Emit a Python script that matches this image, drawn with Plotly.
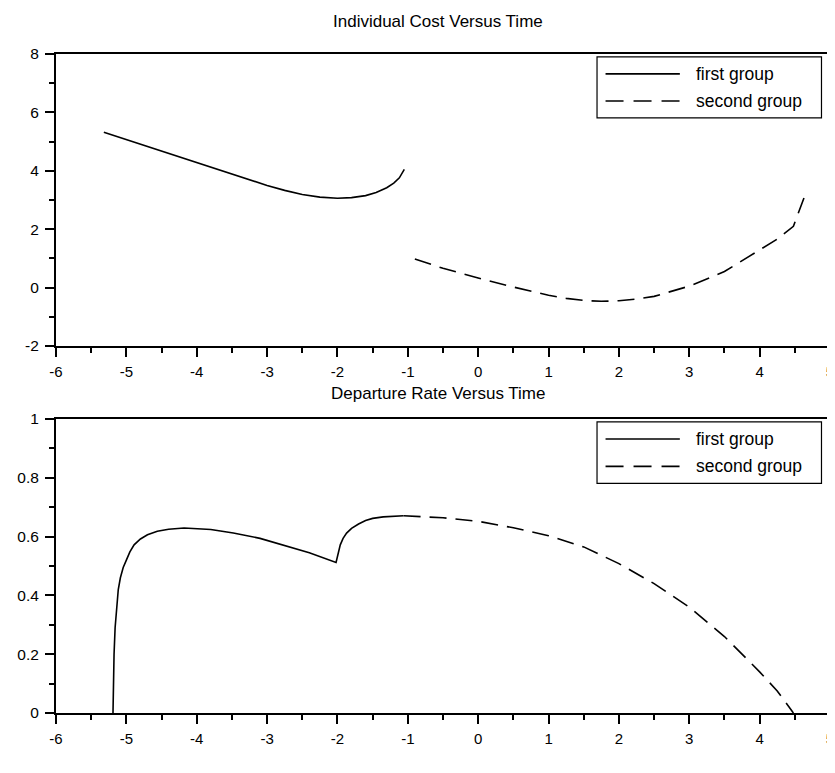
import plotly.graph_objects as go
from plotly.subplots import make_subplots

# ---------------- data ----------------
cost_first_x = [-5.32, -5.0, -4.5, -4.0, -3.5, -3.0, -2.75, -2.5, -2.25, -2.0,
                -1.8, -1.6, -1.45, -1.3, -1.2, -1.12, -1.05]
cost_first_y = [5.32, 5.07, 4.67, 4.27, 3.88, 3.50, 3.33, 3.19, 3.10, 3.06,
                3.08, 3.15, 3.26, 3.42, 3.58, 3.76, 4.05]

cost_second_x = [-0.9, -0.5, 0.0, 0.5, 1.0, 1.25, 1.5, 1.75, 2.0, 2.25, 2.5, 3.0,
                 3.5, 4.0, 4.25, 4.48, 4.63]
cost_second_y = [0.98, 0.66, 0.33, 0.02, -0.26, -0.37, -0.44, -0.47, -0.45, -0.39,
                 -0.30, 0.05, 0.55, 1.28, 1.66, 2.10, 3.07]

rate_first_x = [-5.19, -5.185, -5.175, -5.16, -5.14, -5.115, -5.085, -5.045, -5.0,
                -4.95, -4.89, -4.8, -4.7, -4.56, -4.4, -4.18, -3.8, -3.48, -3.1,
                -2.77, -2.4, -2.02, -1.99, -1.96, -1.92, -1.87, -1.8, -1.7, -1.6,
                -1.5, -1.35, -1.2, -1.06]
rate_first_y = [0.0, 0.09, 0.20, 0.29, 0.36, 0.42, 0.46, 0.495, 0.52, 0.548,
                0.572, 0.592, 0.606, 0.618, 0.625, 0.629, 0.624, 0.612, 0.594,
                0.572, 0.545, 0.512, 0.545, 0.572, 0.594, 0.612, 0.628, 0.643,
                0.655, 0.662, 0.667, 0.670, 0.671]

rate_second_x = [-1.06, -0.5, 0.0, 0.5, 1.0, 1.5, 2.0, 2.5, 3.0, 3.5, 4.0, 4.25, 4.48]
rate_second_y = [0.671, 0.664, 0.652, 0.630, 0.603, 0.565, 0.508, 0.440, 0.360,
                 0.260, 0.140, 0.075, 0.0]

series_names = ["first group", "second group"]
titles = ["Individual Cost Versus Time", "Departure Rate Versus Time"]

x_tickvals = [-6, -5, -4, -3, -2, -1, 0, 1, 2, 3, 4, 5]
x_ticktext = ["-6", "-5", "-4", "-3", "-2", "-1", "0", "1", "2", "3", "4", "5"]
cost_tickvals = [-2, 0, 2, 4, 6, 8]
cost_ticktext = ["-2", "0", "2", "4", "6", "8"]
rate_tickvals = [0, 0.2, 0.4, 0.6, 0.8, 1]
rate_ticktext = ["0", "0.2", "0.4", "0.6", "0.8", "1"]

# ---------------- figure ----------------
FONT = "Liberation Sans, Arial, sans-serif"
fig = make_subplots(rows=2, cols=1, vertical_spacing=0.1)

line_solid = dict(color="black", width=1.6)
line_dash = dict(color="black", width=1.6, dash="17px,9px")

fig.add_trace(go.Scatter(x=cost_first_x, y=cost_first_y, mode="lines",
                         name=series_names[0], line=line_solid, showlegend=False), 1, 1)
fig.add_trace(go.Scatter(x=cost_second_x, y=cost_second_y, mode="lines",
                         name=series_names[1], line=line_dash, showlegend=False), 1, 1)
fig.add_trace(go.Scatter(x=rate_first_x, y=rate_first_y, mode="lines",
                         name=series_names[0], line=line_solid, showlegend=False), 2, 1)
fig.add_trace(go.Scatter(x=rate_second_x, y=rate_second_y, mode="lines",
                         name=series_names[1], line=line_dash, showlegend=False), 2, 1)

W, H = 835, 773
L, R, T, B = 46, 9, 46, 68
ph = H - T - B
top_dom = [(705 - 338) / ph, 1.0]
bot_dom = [0.0, 294 / ph]

common_x = dict(range=[-6, 5], tickmode="array", tickvals=x_tickvals, ticktext=x_ticktext,
                showline=True, linecolor="black", linewidth=2, mirror=True,
                ticks="outside", ticklen=9, tickwidth=1.5, tickcolor="black",
                showgrid=False, zeroline=False, ticklabelstandoff=2,
                ticklabeloverflow="allow",
                tickfont=dict(family=FONT, size=15, color="black"),
                minor=dict(tickmode="linear", tick0=-6, dtick=0.5, ticks="outside",
                           ticklen=5, tickwidth=1.5, tickcolor="black", showgrid=False))
fig.update_xaxes(**common_x)
fig.update_yaxes(showline=True, linecolor="black", linewidth=2, mirror=True,
                 ticks="outside", ticklen=9, tickwidth=1.5, tickcolor="black",
                 showgrid=False, zeroline=False, ticklabelstandoff=3,
                 tickfont=dict(family=FONT, size=15.5, color="black"))
fig.update_yaxes(row=1, col=1, range=[-2, 8], tickmode="array", tickvals=cost_tickvals,
                 ticktext=cost_ticktext, domain=top_dom,
                 minor=dict(tickmode="linear", tick0=-2, dtick=1, ticks="outside",
                            ticklen=5, tickwidth=1.5, tickcolor="black", showgrid=False))
fig.update_yaxes(row=2, col=1, range=[0, 1], tickmode="array", tickvals=rate_tickvals,
                 ticktext=rate_ticktext, domain=bot_dom,
                 minor=dict(tickmode="linear", tick0=0, dtick=0.1, ticks="outside",
                            ticklen=5, tickwidth=1.5, tickcolor="black", showgrid=False))

# titles and legends (drawn in axis-domain coordinates)
shapes = []
annotations = []
title_y = [1.113, 1.087]
for i, (xa, ya) in enumerate([("x", "y"), ("x2", "y2")]):
    xr, yr = xa + " domain", ya + " domain"
    annotations.append(dict(text=titles[i], xref=xr, yref=yr, x=0.494, y=title_y[i],
                            showarrow=False, xanchor="center", yanchor="middle",
                            font=dict(family=FONT, size=17, color="black")))
    shapes.append(dict(type="rect", xref=xr, yref=yr, x0=0.699, x1=0.989,
                       y0=0.781, y1=0.990, line=dict(color="black", width=1.2),
                       fillcolor="white", layer="above"))
    for j, (ry, dash) in enumerate([(0.932, "solid"), (0.839, "18px,10px")]):
        shapes.append(dict(type="line", xref=xr, yref=yr, x0=0.710, x1=0.806,
                           y0=ry, y1=ry, line=dict(color="black", width=1.6, dash=dash),
                           layer="above"))
        annotations.append(dict(text=series_names[j], xref=xr, yref=yr, x=0.824, y=ry,
                                showarrow=False, xanchor="left", yanchor="middle",
                                font=dict(family=FONT, size=17.5, color="black")))

fig.update_layout(width=W, height=H, margin=dict(l=L, r=R, t=T, b=B),
                  plot_bgcolor="white", paper_bgcolor="white",
                  shapes=shapes, annotations=annotations, showlegend=False)

fig.write_html("out.html")
